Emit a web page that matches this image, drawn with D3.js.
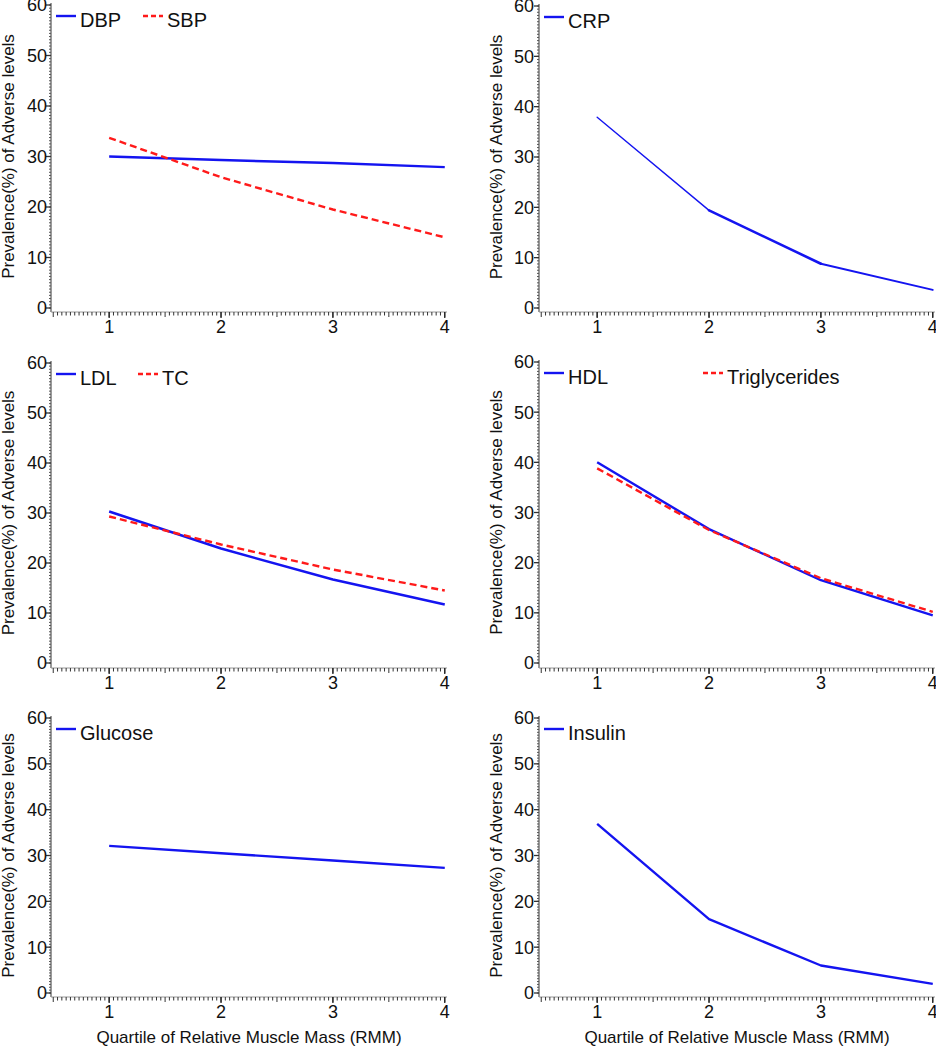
<!DOCTYPE html>
<html><head><meta charset="utf-8">
<script src="https://cdn.jsdelivr.net/npm/d3@7"></script>
<style>
html,body{margin:0;padding:0;background:#fff;}
svg{display:block;font-family:"Liberation Sans",Arial,sans-serif;}
</style></head>
<body>
<svg id="chart" width="936" height="1050"></svg>
<script>
// ---- data ----
const quartiles = [1, 2, 3, 4];
const xTickLabels = ["1", "2", "3", "4"];
const yTicks = [0, 10, 20, 30, 40, 50, 60];
const yAxisTitle = "Prevalence(%) of Adverse levels";
const xAxisTitle = "Quartile of Relative Muscle Mass (RMM)";

const dbp = [30.0, 29.3, 28.7, 27.9];
const sbp = [33.7, 25.9, 19.5, 14.0];
const crp = [37.9, 19.4, 8.8, 3.6];
const ldl = [30.3, 22.9, 16.7, 11.7];
const tc = [29.3, 23.7, 18.7, 14.5];
const hdl = [40.0, 26.7, 16.5, 9.5];
const triglycerides = [38.8, 26.5, 16.9, 10.2];
const glucose = [32.1, 30.5, 28.9, 27.3];
const insulin = [36.9, 16.1, 6.0, 2.0];

// ---- layout ----
const BLUE = "#1414f0", RED = "#ff1a1a";
const panels = [
  {x0: 51, top: 5, bottom: 308, axisY: 312, titleX: 14, labelRight: 47, xTitle: false,
   series: [{name: "DBP", values: dbp, color: BLUE, dash: null, lx: 56},
            {name: "SBP", values: sbp, color: RED, dash: "7,4", lx: 143}]},
  {x0: 539, top: 6, bottom: 308, axisY: 312, titleX: 502, labelRight: 534, xTitle: false,
   series: [{name: "CRP", values: crp, color: BLUE, dash: null, lx: 544, w: [1.4, 2.6, 2.0]}]},
  {x0: 51, top: 363, bottom: 663, axisY: 668, titleX: 14, labelRight: 47, xTitle: false,
   series: [{name: "LDL", values: ldl, color: BLUE, dash: null, lx: 56},
            {name: "TC", values: tc, color: RED, dash: "7,4", lx: 138}]},
  {x0: 539, top: 362, bottom: 663, axisY: 668, titleX: 502, labelRight: 534, xTitle: false,
   series: [{name: "HDL", values: hdl, color: BLUE, dash: null, lx: 544},
            {name: "Triglycerides", values: triglycerides, color: RED, dash: "7,4", lx: 703}]},
  {x0: 51, top: 718, bottom: 993, axisY: 997, titleX: 14, labelRight: 47, xTitle: true,
   series: [{name: "Glucose", values: glucose, color: BLUE, dash: null, lx: 56}]},
  {x0: 539, top: 718, bottom: 993, axisY: 997, titleX: 502, labelRight: 534, xTitle: true,
   series: [{name: "Insulin", values: insulin, color: BLUE, dash: null, lx: 544}]}
];

const svg = d3.select("#chart");
const AX = "#555";

panels.forEach(p => {
  const g = svg.append("g");
  const x = d3.scaleLinear().domain([0.48, 4.02]).range([p.x0, p.x0 + 396]);
  const y = d3.scaleLinear().domain([0, 60]).range([p.bottom, p.top]);

  // y axis line
  g.append("line").attr("x1", p.x0).attr("x2", p.x0)
    .attr("y1", y(60) - 2).attr("y2", p.axisY)
    .attr("stroke", AX).attr("stroke-width", 1.2);
  // y minor ticks
  d3.range(0, 60.001, 10 / 16).forEach(v => {
    g.append("line").attr("x1", p.x0 - 2).attr("x2", p.x0)
      .attr("y1", y(v)).attr("y2", y(v)).attr("stroke", AX).attr("stroke-width", 1);
  });
  // y major ticks + labels
  yTicks.forEach(v => {
    g.append("line").attr("x1", p.x0 - 5).attr("x2", p.x0)
      .attr("y1", y(v)).attr("y2", y(v)).attr("stroke", "#333").attr("stroke-width", 1.3);
    g.append("text").attr("x", p.labelRight).attr("y", y(v)).attr("dy", "0.36em")
      .attr("text-anchor", "end").attr("font-size", 18).attr("fill", "#111").text(v);
  });
  // y title
  g.append("text")
    .attr("transform", `translate(${p.titleX},${(p.top + p.bottom) / 2}) rotate(-90)`)
    .attr("text-anchor", "middle").attr("font-size", 17).attr("fill", "#111").text(yAxisTitle);

  // x axis line
  g.append("line").attr("x1", p.x0).attr("x2", x(4.02))
    .attr("y1", p.axisY).attr("y2", p.axisY)
    .attr("stroke", "#999").attr("stroke-width", 1.2);
  // x minor ticks
  d3.range(0.5, 4.0001, 1 / 26).forEach(v => {
    const half = Math.abs(v * 2 - Math.round(v * 2)) < 1e-6;
    g.append("line").attr("x1", x(v)).attr("x2", x(v))
      .attr("y1", p.axisY).attr("y2", p.axisY + (half ? 5 : 3.5))
      .attr("stroke", "#333").attr("stroke-width", 1);
  });
  quartiles.forEach((q, i) => {
    g.append("line").attr("x1", x(q)).attr("x2", x(q))
      .attr("y1", p.axisY).attr("y2", p.axisY + 6).attr("stroke", "#222").attr("stroke-width", 1.3);
    g.append("text").attr("x", x(q)).attr("y", p.axisY + 21)
      .attr("text-anchor", "middle").attr("font-size", 18).attr("fill", "#111").text(xTickLabels[i]);
  });
  if (p.xTitle) {
    g.append("text").attr("x", p.x0 + 198).attr("y", p.axisY + 46)
      .attr("text-anchor", "middle").attr("font-size", 17).attr("fill", "#111").text(xAxisTitle);
  }

  // series
  const line = d3.line().x((d, i) => x(quartiles[i])).y(d => y(d));
  p.series.forEach(s => {
    if (s.w) {
      // segment-wise widths
      for (let i = 0; i < s.values.length - 1; i++) {
        g.append("path").datum(s.values.slice(i, i + 2))
          .attr("d", d3.line().x((d, j) => x(quartiles[i + j])).y(d => y(d)))
          .attr("fill", "none").attr("stroke", s.color).attr("stroke-width", s.w[i])
          .attr("stroke-linecap", "round");
      }
    } else {
      g.append("path").datum(s.values).attr("d", line)
        .attr("fill", "none").attr("stroke", s.color).attr("stroke-width", 2.4)
        .attr("stroke-dasharray", s.dash).attr("stroke-linejoin", "round");
    }
    // legend
    const ly = y(60) + 11;
    g.append("line").attr("x1", s.lx).attr("x2", s.lx + 20).attr("y1", ly).attr("y2", ly)
      .attr("stroke", s.color).attr("stroke-width", 2.4).attr("stroke-dasharray", s.dash ? "5,3" : null);
    g.append("text").attr("x", s.lx + 24).attr("y", ly + 11)
      .attr("font-size", 20).attr("fill", "#111").text(s.name);
  });
});
</script>
</body></html>
